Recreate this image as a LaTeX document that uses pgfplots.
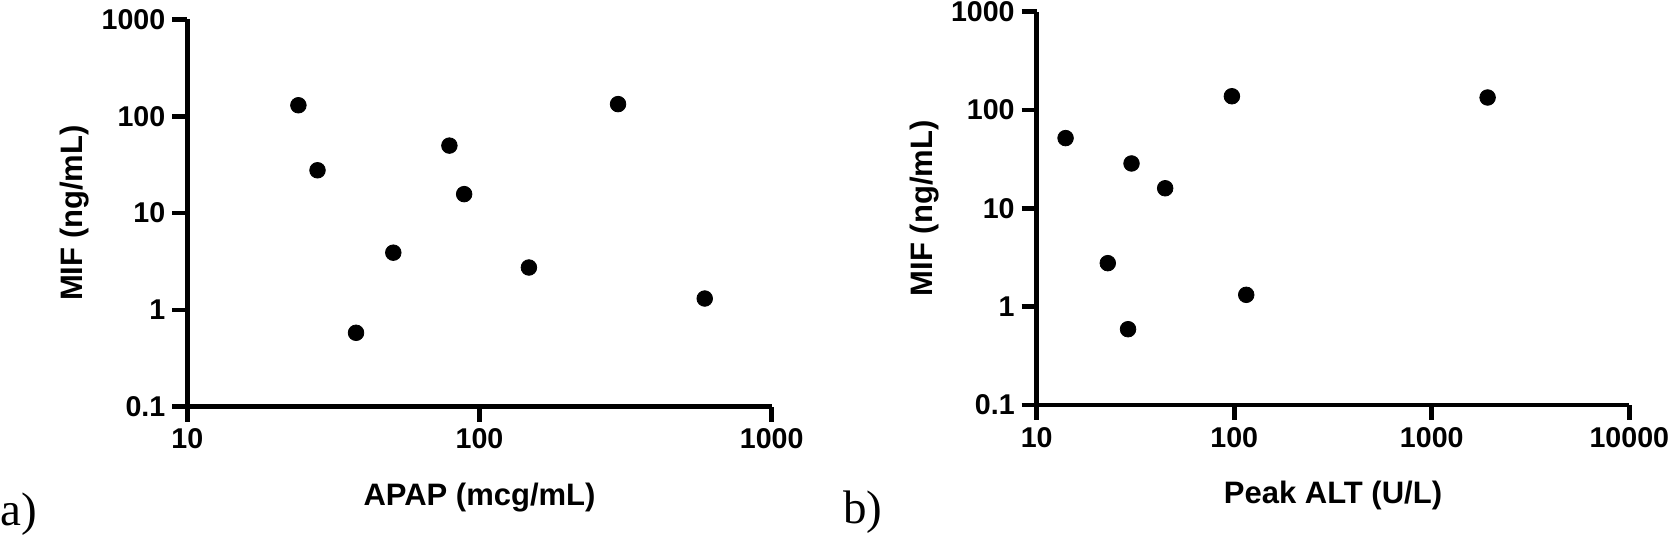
\documentclass[border=0pt]{standalone}
\usepackage{fontspec}
\setmainfont{Liberation Sans}
\newfontfamily\seriffont{Liberation Serif}
\usepackage{pgfplots}
\pgfplotsset{compat=1.18}
\pgfplotsset{
  every axis/.append style={
    scale only axis, anchor=south west,
    axis lines=left,
    axis line style={-, line width=2.3pt, black},
    tick style={line width=2.3pt, black},
    major tick length=7.5pt,
    tick align=outside,
    xminorticks=false, yminorticks=false,
    ymin=0.1, ymax=1000,
    ytick={0.1,1,10,100,1000},
    yticklabels={0.1,1,10,100,1000},
    tick label style={font=\fontsize{14.3}{14.3}\selectfont\bfseries},
    label style={font=\fontsize{15.5}{15.5}\selectfont\bfseries},
    clip=false,
  }
}

\begin{document}
\begin{tikzpicture}
\path[use as bounding box] (0pt,0pt) rectangle (835pt,269.5pt);
\begin{loglogaxis}[
  at={(93.65pt,66.15pt)}, width=292.2pt, height=193.6pt,
  xmin=10, xmax=1000,
  xtick={10,100,1000}, xticklabels={10,100,1000},
  xlabel={APAP (mcg/mL)}, ylabel={MIF (ng/mL)},
  xlabel style={at={(axis description cs:0.5,-0.254)}, anchor=base},
  ylabel style={at={(axis description cs:-0.180,0.5)}, anchor=base},
]
\addplot[only marks, mark=*, mark size=3.9pt, black] coordinates {
  (24.0,130) (27.9,27.7) (37.8,0.58) (50.7,3.9) (78.9,49.8)
  (88.6,15.7) (147.6,2.74) (298,133.6) (590,1.31)
};
\end{loglogaxis}
\begin{loglogaxis}[
  at={(518.35pt,67pt)}, width=296.3pt, height=196.65pt,
  xmin=10, xmax=10000,
  xtick={10,100,1000,10000}, xticklabels={10,100,1000,10000},
  xlabel={Peak ALT (U/L)}, ylabel={MIF (ng/mL)},
  xlabel style={at={(axis description cs:0.5,-0.25)}, anchor=base},
  ylabel style={at={(axis description cs:-0.1767,0.5)}, anchor=base},
]
\addplot[only marks, mark=*, mark size=3.9pt, black] coordinates {
  (14.0,51.8) (30.2,28.6) (44.7,16.0) (22.9,2.77) (29.0,0.59)
  (97.3,138) (115,1.32) (1917,134)
};
\end{loglogaxis}
\node[anchor=base west, inner sep=0pt, font=\seriffont\fontsize{23.5}{23.5}\selectfont] at (0pt,6.5pt) {a)};
\node[anchor=base west, inner sep=0pt, font=\seriffont\fontsize{23.5}{23.5}\selectfont] at (421.5pt,7.5pt) {b)};
\end{tikzpicture}
\end{document}
